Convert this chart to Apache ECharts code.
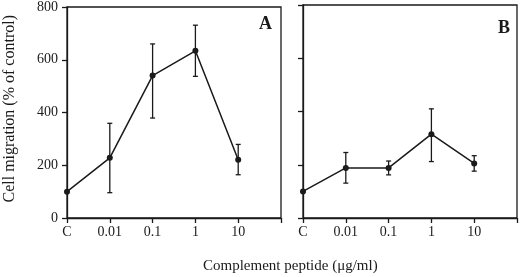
<!DOCTYPE html>
<html>
<head>
<meta charset="utf-8">
<script src="https://cdn.jsdelivr.net/npm/echarts@6/dist/echarts.min.js"></script>
<style>
  html, body { margin: 0; padding: 0; background: #fff; }
  #chart { width: 520px; height: 277px; }
</style>
</head>
<body>
<div id="chart"></div>
<script>
var categories = ["C", "0.01", "0.1", "1", "10"];
var yTicks = [0, 200, 400, 600, 800];

// panel A
var meanA = [100, 228, 540, 634, 221];
var lowA = [100, 96, 379, 537, 164];
var highA = [100, 359, 660, 731, 279];

// panel B
var meanB = [100, 188, 188, 315, 205];
var lowB = [100, 131, 162, 212, 176];
var highB = [100, 246, 214, 410, 234];

var font = "Liberation Serif";
var ink = "#1a1a1a";

function pts(arr) {
  return arr.map(function (v, i) { return [i, v]; });
}
function errs(lo, hi) {
  return lo.map(function (v, i) { return [i, v, hi[i]]; }).filter(function (d) { return d[2] > d[1]; });
}

function errorBar(params, api) {
  var x = api.value(0);
  var top = api.coord([x, api.value(2)]);
  var bot = api.coord([x, api.value(1)]);
  var w = 2.5;
  var st = { stroke: ink, lineWidth: 1.3 };
  return {
    type: "group",
    children: [
      { type: "line", shape: { x1: top[0], y1: top[1], x2: bot[0], y2: bot[1] }, style: st },
      { type: "line", shape: { x1: top[0] - w, y1: top[1], x2: top[0] + w, y2: top[1] }, style: st },
      { type: "line", shape: { x1: bot[0] - w, y1: bot[1], x2: bot[0] + w, y2: bot[1] }, style: st }
    ]
  };
}

function xAx(idx) {
  return {
    gridIndex: idx,
    type: "value",
    min: 0,
    max: 5,
    interval: 1,
    axisLine: { show: true, lineStyle: { color: ink, width: 1.3 } },
    axisTick: { show: true, length: 5, inside: false, lineStyle: { color: ink, width: 1.3 } },
    axisLabel: {
      color: ink, fontFamily: font, fontSize: 14, margin: 7,
      formatter: function (v) { return categories[v] !== undefined ? categories[v] : ""; }
    },
    splitLine: { show: false }
  };
}
function yAx(idx, labels) {
  return {
    gridIndex: idx,
    type: "value",
    min: yTicks[0],
    max: yTicks[yTicks.length - 1],
    interval: 200,
    axisLine: { show: true, lineStyle: { color: ink, width: 1.3 } },
    axisTick: { show: true, length: 5, inside: false, lineStyle: { color: ink, width: 1.3 } },
    axisLabel: { show: labels, color: ink, fontFamily: font, fontSize: 14, margin: 9 },
    splitLine: { show: false }
  };
}
function lineSeries(idx, data) {
  return {
    type: "line",
    xAxisIndex: idx,
    yAxisIndex: idx,
    data: pts(data),
    symbol: "circle",
    symbolSize: 6,
    lineStyle: { color: ink, width: 1.5 },
    itemStyle: { color: ink },
    z: 3,
    animation: false
  };
}
function errSeries(idx, lo, hi) {
  return {
    type: "custom",
    xAxisIndex: idx,
    yAxisIndex: idx,
    renderItem: errorBar,
    data: errs(lo, hi),
    z: 2,
    animation: false
  };
}

var chart = echarts.init(document.getElementById("chart"));
chart.setOption({
  backgroundColor: "#fff",
  animation: false,
  grid: [
    { left: 67, top: 5, width: 214, height: 213, show: true, borderColor: ink, borderWidth: 1.3 },
    { left: 303, top: 5, width: 214, height: 213, show: true, borderColor: ink, borderWidth: 1.3 }
  ],
  title: [
    { text: "A", left: 254, top: 10, textStyle: { fontFamily: font, fontWeight: "bold", fontSize: 18, color: ink } },
    { text: "B", left: 493, top: 14, textStyle: { fontFamily: font, fontWeight: "bold", fontSize: 18, color: ink } }
  ],
  graphic: [
    {
      type: "text", left: 2, top: 15, rotation: Math.PI / 2,
      style: { text: "Cell migration (% of control)", fontFamily: font, fontSize: 16, fill: ink }
    },
    {
      type: "text", left: 203, top: 259,
      style: { text: "Complement peptide (μg/ml)", fontFamily: font, fontSize: 15, fill: ink }
    }
  ],
  xAxis: [xAx(0), xAx(1)],
  yAxis: [yAx(0, true), yAx(1, false)],
  series: [
    errSeries(0, lowA, highA),
    lineSeries(0, meanA),
    errSeries(1, lowB, highB),
    lineSeries(1, meanB)
  ]
});
</script>
</body>
</html>
